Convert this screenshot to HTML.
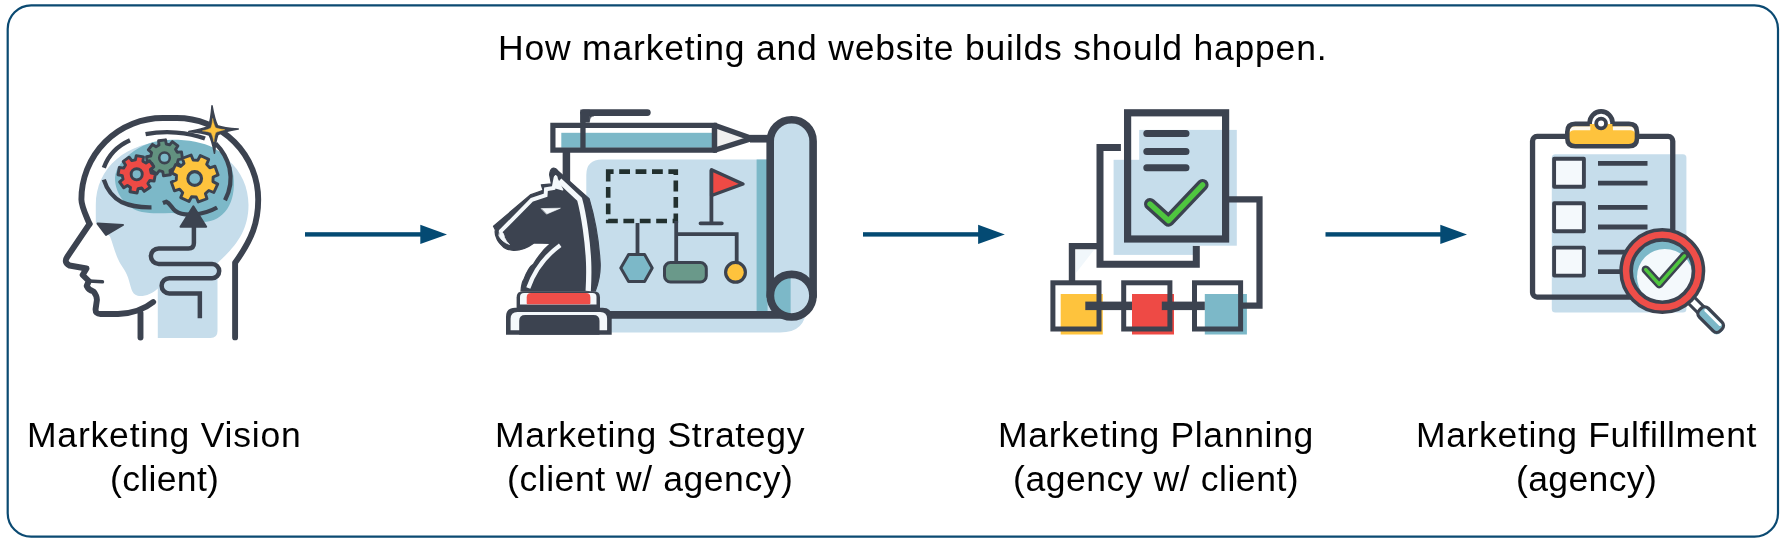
<!DOCTYPE html>
<html><head><meta charset="utf-8">
<style>
html,body{margin:0;padding:0;background:#fff;}
body{width:1785px;height:544px;position:relative;overflow:hidden;font-family:"Liberation Sans",sans-serif;color:#000;}
.t{position:absolute;will-change:transform;font-size:35.5px;line-height:40px;white-space:nowrap;}
svg{position:absolute;left:0;top:0;}
</style></head><body>
<div class="t" id="t0" style="left:497.90px;top:27.8px;letter-spacing:0.809px">How marketing and website builds should happen.</div>
<div class="t" id="a1" style="left:27.00px;top:415px;letter-spacing:0.802px">Marketing Vision</div>
<div class="t" id="b1" style="left:109.98px;top:459px;letter-spacing:0.344px">(client)</div>
<div class="t" id="a2" style="left:495.10px;top:415px;letter-spacing:0.676px">Marketing Strategy</div>
<div class="t" id="b2" style="left:506.78px;top:459px;letter-spacing:0.569px">(client w/ agency)</div>
<div class="t" id="a3" style="left:998.40px;top:415px;letter-spacing:0.673px">Marketing Planning</div>
<div class="t" id="b3" style="left:1013.38px;top:459px;letter-spacing:0.556px">(agency w/ client)</div>
<div class="t" id="a4" style="left:1416.10px;top:415px;letter-spacing:0.649px">Marketing Fulfillment</div>
<div class="t" id="b4" style="left:1516.08px;top:459px;letter-spacing:0.369px">(agency)</div>
<svg width="1785" height="544" viewBox="0 0 1785 544">
<rect x="7.7" y="5.4" width="1770.3" height="531.3" rx="23.5" ry="23.5" fill="none" stroke="#0b4a72" stroke-width="2.2"/>
<g fill="#044a73">
<rect x="305" y="232.2" width="118" height="4.4"/><polygon points="420.3,224.8 447,234.4 420.3,244"/>
<rect x="863" y="232.2" width="118" height="4.4"/><polygon points="978.1,224.8 1004.8,234.4 978.1,244"/>
<rect x="1325.5" y="232.2" width="118" height="4.4"/><polygon points="1440.3,224.8 1467,234.4 1440.3,244"/>
</g>
<g fill="none" stroke="#3c4350" stroke-linecap="round" stroke-linejoin="round"><path d="M95.8,205 C95.8,168 126,141 172,141 C220,141 248.5,170 248.5,205 C248.5,232 234,248 217.5,263 L217.5,331 Q217.5,338 210.5,338 L157.8,338 L157.8,288.5 C152,294 144,297 137.7,295.8 C131,294 131,286 128,277.5 C125,269 121,266 118,259 C114,250 113,244 110,236.5 L95.8,222.6Z" fill="#c6ddeb" stroke="none"/><path d="M115,178 C115,168 124,158 134,151 C146,143 158,139.8 172,139.8 C205,139.8 230.5,150 233.5,176 C236.5,203 224,221.5 203,222 C192,222 186,213.5 172,213 C162,213 152,214 142,212 C126,208.5 115,194 115,178Z" fill="#7cb8c8" stroke="none"/><path d="M89.5,224 C84.5,212 81.4,206 81.4,199.5 A81.4,81.4 0 0 1 162.8,118 L176.7,118 A81.5,81.5 0 0 1 258.2,199.5 C258.2,222 252.5,238.5 235.1,262.8 L235.1,337.4" stroke-width="5.9"/><path d="M89.5,224 L67.2,257 Q63.5,262.5 69.5,265.5 L86.5,268.5 L82.6,275 L88.8,281 L86.7,286 Q88.5,290 93.6,291.5 Q97,296 96.9,300 L95.6,309 Q95.2,314 100.5,314 L118,314 C132,313.5 144,309.5 153.2,302" stroke-width="5.9"/><path d="M88.8,281 L102.4,281.8" stroke-width="3.6"/><path d="M140.5,313 L140.5,337.5" stroke-width="5.9"/><path d="M97.5,223.6 L123,225 L106,235Z" fill="#3c4350" stroke-width="2"/><path d="M199.85,318.2 L199.85,293.4 L169.2,293.4 A7.6,7.6 0 0 1 169.2,278.2 L212.1,278.2 A7.1,7.1 0 0 0 212.1,264 L158.7,264 A7.8,7.8 0 0 1 158.7,248.4 L188.4,248.4 Q193.9,248.4 193.9,242.9 L193.9,226" stroke-width="4.5" stroke-linejoin="miter" stroke-linecap="butt"/><path d="M145.6,134.2 C165,130.5 188,132 205,138.6" stroke-width="4.3" stroke-linecap="butt"/><path d="M130,140.2 C117,146 108,156 103.8,167.8" stroke-width="4.3" stroke-linecap="butt"/><path d="M103.8,179.6 C107,190 113,197.5 122,202.3 C131,206.5 141,207.5 151.5,207.3" stroke-width="4.3" stroke-linecap="butt"/><path d="M162.9,203 L166.4,201.7 C170,203 171.5,208 175.5,211 C183,216.5 202,216 217.1,207.5" stroke-width="4.3" stroke-linecap="butt"/><path d="M215.6,143.5 C222,150 227,158 229.5,168 C232,180 230,191 225,200.2" stroke-width="4.3" stroke-linecap="butt"/><path d="M177.27,152.30 L181.49,151.87 L182.47,158.82 L178.29,159.57 L177.41,162.94 L180.71,165.62 L176.49,171.23 L173.00,168.80 L170.00,170.57 L170.43,174.79 L163.48,175.77 L162.73,171.59 L159.36,170.71 L156.68,174.01 L151.07,169.79 L153.50,166.30 L151.73,163.30 L147.51,163.73 L146.53,156.78 L150.71,156.03 L151.59,152.66 L148.29,149.98 L152.51,144.37 L156.00,146.80 L159.00,145.03 L158.57,140.81 L165.52,139.83 L166.27,144.01 L169.64,144.89 L172.32,141.59 L177.93,145.81 L175.50,149.30Z" fill="#62917f" stroke="#3c4350" stroke-width="2.90" stroke-linejoin="round"/><circle cx="164.50" cy="157.80" r="5.30" fill="#7cb8c8" stroke="#3c4350" stroke-width="2.60"/><path d="M151.14,172.96 L155.40,173.89 L154.13,181.08 L149.81,180.50 L147.86,183.56 L150.21,187.23 L144.23,191.42 L141.59,187.95 L138.04,188.74 L137.11,193.00 L129.92,191.73 L130.50,187.41 L127.44,185.46 L123.77,187.81 L119.58,181.83 L123.05,179.19 L122.26,175.64 L118.00,174.71 L119.27,167.52 L123.59,168.10 L125.54,165.04 L123.19,161.37 L129.17,157.18 L131.81,160.65 L135.36,159.86 L136.29,155.60 L143.48,156.87 L142.90,161.19 L145.96,163.14 L149.63,160.79 L153.82,166.77 L150.35,169.41Z" fill="#ee4a45" stroke="#3c4350" stroke-width="2.90" stroke-linejoin="round"/><circle cx="136.70" cy="174.30" r="5.55" fill="#7cb8c8" stroke="#3c4350" stroke-width="2.90"/><path d="M209.80,167.81 L214.96,166.21 L218.12,174.89 L213.14,176.98 L212.94,181.62 L217.72,184.13 L213.81,192.51 L208.81,190.47 L205.39,193.60 L206.99,198.76 L198.31,201.92 L196.22,196.94 L191.58,196.74 L189.07,201.52 L180.69,197.61 L182.73,192.61 L179.60,189.19 L174.44,190.79 L171.28,182.11 L176.26,180.02 L176.46,175.38 L171.68,172.87 L175.59,164.49 L180.59,166.53 L184.01,163.40 L182.41,158.24 L191.09,155.08 L193.18,160.06 L197.82,160.26 L200.33,155.48 L208.71,159.39 L206.67,164.39Z" fill="#fec33d" stroke="#3c4350" stroke-width="2.90" stroke-linejoin="round"/><circle cx="194.70" cy="178.50" r="6.85" fill="#7cb8c8" stroke="#3c4350" stroke-width="3.10"/><path d="M193.35,206.4 L206.2,226.7 L180.5,226.7Z" fill="#3c4350" stroke-width="2"/><g transform="rotate(-3 213.3 130.3)"><path d="M213.3,105.8 Q215.1,120.0 217.7,125.9 Q223.8,128.5 238.3,130.3 Q223.8,132.1 217.7,134.7 Q215.1,140.1 213.3,153.3 Q211.5,140.1 208.9,134.7 Q203.0,132.1 188.8,130.3 Q203.0,128.5 208.9,125.9 Q211.5,120.0 213.3,105.8Z" fill="#3c4350" stroke="#3c4350" stroke-width="1.6"/><path d="M213.3,118.8 Q214.3,125.3 215.7,127.9 Q218.3,129.3 224.8,130.3 Q218.3,131.3 215.7,132.7 Q214.3,135.3 213.3,141.8 Q212.3,135.3 210.9,132.7 Q208.5,131.3 202.3,130.3 Q208.5,129.3 210.9,127.9 Q212.3,125.3 213.3,118.8Z" fill="#fec33d" stroke="#fec33d" stroke-width="0.4"/></g></g>
<g fill="none" stroke="#3c4350" stroke-linecap="round" stroke-linejoin="round"><path d="M586.3,175 Q586.3,159.5 602,159.5 L767,159.5 L767,300 L806,300 L806,308 Q806,332.5 780,332.5 L586.3,332.5Z" fill="#c6ddeb" stroke="none"/><rect x="756.6" y="159.5" width="11" height="152" fill="#7cb8c8" stroke="none"/><path d="M566.4,152 L566.4,200" stroke-width="7.5"/><path d="M750,138.7 L768,138.7" stroke-width="7.7" stroke-linecap="butt"/><path d="M610,314.9 L790,314.9" stroke-width="7.6"/><path d="M770.2,296 L770.2,141.2 A21.45,21.45 0 0 1 813.1,141.2 L813.1,296" fill="#c6ddeb" stroke-width="7.6"/><circle cx="791.65" cy="295.7" r="21.3" fill="#c6ddeb" stroke="none"/><path d="M790.6,274.4 A21.3,21.3 0 0 0 790.6,317Z" fill="#7cb8c8" stroke="none"/><circle cx="791.65" cy="295.7" r="21.3" stroke-width="7.7"/><rect x="552.9" y="125.3" width="161.6" height="24.9" fill="#fff" stroke="none"/><rect x="561.3" y="132.8" width="152" height="15" fill="#7cb8c8" stroke="none"/><path d="M714.5,125.3 L750,138.4 L714.5,150.2Z" fill="#f0f0f0" stroke="none"/><path d="M714.5,125.3 L552.9,125.3 L552.9,150.2 L714.5,150.2Z" stroke-width="5.2" stroke-linejoin="miter"/><path d="M714.5,125.3 L752,138.4 L714.5,150.2Z" stroke-width="5.3" stroke-linejoin="round"/><path d="M582.95,148 L582.95,112" stroke-width="5.3" stroke-linecap="butt"/><path d="M583.7,112.6 L647.3,112.6" stroke-width="6.8"/><path d="M580.3,109.6 L589.7,109.6 L589.7,122.6 L580.3,122.6Z" fill="#3c4350" stroke="none"/><path d="M589.5,115.8 L594,115.8 Q589.8,116.3 589.5,121Z" fill="#3c4350" stroke-width="0.6"/><rect x="608.2" y="171.6" width="67.6" height="49.4" stroke="#22302f" stroke-width="4.6" stroke-dasharray="10.8 5.6" stroke-dashoffset="5.4" stroke-linecap="butt" stroke-linejoin="miter"/><path d="M637.5,223 L637.5,254 M676.2,221 L676.2,262 M676.2,234.2 L736.7,234.2 L736.7,262" stroke-width="3.8" stroke-linecap="butt" stroke-linejoin="miter"/><path d="M620.8,268 L628.6,254.6 L644.6,254.6 L652.2,268 L644.6,281.4 L628.6,281.4Z" fill="#7cb8c8" stroke-width="3"/><rect x="664.5" y="262.6" width="41.8" height="19.4" rx="6" ry="6" fill="#6a998a" stroke-width="3"/><circle cx="735.5" cy="272.3" r="9.9" fill="#fec33d" stroke-width="3.2"/><path d="M711.4,170.5 L711.4,223 M700.5,223.3 L721.8,223.3" stroke-width="3.8"/><path d="M711.6,169.8 L743,184 L711.6,195.5Z" fill="#ee4a45" stroke-width="3.4"/><path d="M506,334.7 L506,316.8 Q506,307.75 515,307.75 L602.7,307.75 Q611.7,307.75 611.7,316.8 L611.7,334.7Z" fill="#3c4350" stroke="none"/><path d="M510.6,330.2 L510.6,319 Q510.6,312.1 517.5,312.1 L600.2,312.1 Q607.1,312.1 607.1,319 L607.1,330.2Z" fill="#f4f8fb" stroke="none"/><path d="M519.2,334.7 L519.2,321 Q519.2,315.1 525.2,315.1 L593.5,315.1 Q599.5,315.1 599.5,321 L599.5,334.7Z" fill="#3c4350" stroke="none"/><path d="M516.6,309 L516.6,297.5 Q516.6,291.3 522.8,291.3 L593.8,291.3 Q600,291.3 600,297.5 L600,309Z" fill="#3c4350" stroke="none"/><path d="M520,304.4 L520,297 Q520,292.9 524,292.9 L592.5,292.9 Q596.5,292.9 596.5,297 L596.5,304.4Z" fill="#f4f8fb" stroke="none"/><path d="M526.7,303.2 L526.7,297.5 Q526.7,293.1 531,293.1 L586,293.1 Q590.4,293.1 590.4,297.5 L590.4,303.2 Q590.4,304.2 589.4,304.2 L527.7,304.2 Q526.7,304.2 526.7,303.2Z" fill="#ef4e49" stroke="none"/><path d="M553.3,168 Q556,168 557.9,171 L589.1,198.6 C594,215 599,240 600.2,263.9 C600.5,275 598,284 595.3,291 L521,291 C521.5,285 522.5,281 523.9,279.4 C527,271 530,266 533.6,263.9 C539,255 545,248 550.5,243.5 L534,243 C528,247.5 522,250.5 513.7,250.4 C508,250 504,248 502.7,246.4 C499,243 497,240 496.3,237.2 C495,234 494.8,232 495.4,229.9 L493.5,226.2 L530.3,194.9 L543.1,190.3 L541.3,184.8 L551.4,183.9 L549.6,174.7 Q550,169 553.3,168Z" fill="#3c4350" stroke-width="1.2"/><path d="M500.8,231.2 L531.8,199.8 L545.6,195.2 L546,189.2 L553.6,188 L555.6,177.5" stroke="#f4f8fb" stroke-width="3.9" stroke-linejoin="miter"/><path d="M555.6,175.8 L562.6,189.8 L554.5,187.5Z" fill="#f4f8fb" stroke="#f4f8fb" stroke-width="1.5"/><path d="M559.5,180.5 L579.6,199.2 C584,215 587.8,243 588.6,262 C589,272 588.8,281 588.2,291" stroke="#f4f8fb" stroke-width="5.3" stroke-linecap="butt"/><path d="M560.2,245.2 C548,254 535,269 528.3,288" stroke="#f4f8fb" stroke-width="4.3" stroke-linecap="butt"/><path d="M541.5,208.6 L560.4,208.2 L546.8,214Z" fill="#f4f8fb" stroke="#f4f8fb" stroke-width="0.6"/><path d="M500,230.5 Q504.5,233 504.5,237.5 Q506,241.5 509.5,244.5 Q502,242 499,236Z" fill="#f4f8fb" stroke="#f4f8fb" stroke-width="0.8"/></g>
<g fill="none" stroke="#3c4350" stroke-linecap="butt" stroke-linejoin="miter"><rect x="1113.6" y="159.8" width="80" height="95.1" fill="#c6ddeb" stroke="none"/><path d="M1120.9,147.4 L1100,147.4 L1100,264.3 L1196.3,264.3 L1196.3,245.7" stroke-width="7"/><path d="M1100,246.1 L1072,246.1 L1072,281" stroke-width="6.4"/><path d="M1076,250 L1094,250 L1076,273Z" fill="#f1f7fb" stroke="none"/><rect x="1139.2" y="129.9" width="97.6" height="115.8" fill="#c6ddeb" stroke="none"/><rect x="1127.6" y="112.8" width="98" height="126.2" stroke-width="7.2"/><path d="M1146.8,133.5 L1186,133.5 M1146.8,151.4 L1186,151.4 M1146.8,167.7 L1186,167.7" stroke-width="7" stroke-linecap="round"/><path d="M1150,204 L1168.6,220.7 L1202.6,184.9" stroke-width="12" stroke-linecap="round" stroke-linejoin="round"/><path d="M1150,204 L1168.6,220.7 L1202.6,184.9" stroke="#4fc63f" stroke-width="5.4" stroke-linecap="round" stroke-linejoin="round"/><rect x="1060.7" y="294" width="42.1" height="40.5" fill="#fec33d" stroke="none"/><rect x="1132" y="294" width="42" height="40.5" fill="#ee4a45" stroke="none"/><rect x="1204.8" y="294" width="42.1" height="40.5" fill="#7cb8c8" stroke="none"/><path d="M1227,199.4 L1259.5,199.4 L1259.5,305.6 L1241,305.6" stroke-width="6.2"/><rect x="1052.9" y="282.8" width="46.1" height="46.2" stroke-width="5"/><rect x="1123.7" y="282.8" width="46.2" height="46.2" stroke-width="5"/><rect x="1194.5" y="282.8" width="46.1" height="46.2" stroke-width="5"/><rect x="1085.3" y="301.6" width="46.7" height="8.5" fill="#3c4350" stroke="none"/><rect x="1161.8" y="301.6" width="43" height="8.5" fill="#3c4350" stroke="none"/></g>
<g fill="none" stroke="#3c4350" stroke-linecap="butt" stroke-linejoin="round"><rect x="1551.8" y="154.3" width="134.6" height="158.2" rx="3.5" fill="#c6ddeb" stroke="none"/><rect x="1532.55" y="136.45" width="140.2" height="160.6" rx="4.5" stroke-width="5.3"/><circle cx="1601.1" cy="122.9" r="11.5" fill="#fff" stroke-width="4.6"/><rect x="1567.3" y="123.9" width="69.7" height="22.4" rx="8" fill="#fec33d" stroke="none"/><path d="M1569.7,131.5 Q1569.7,126.2 1575,126.2 L1590.3,126.2 L1590.3,130.3 L1574,130.3 Q1570.5,130.3 1569.7,133Z M1612.9,130.3 L1612.9,126.2 L1629.5,126.2 Q1634.6,126.2 1634.6,131.5 L1634.6,133 Q1634,130.3 1630.5,130.3Z" fill="#fffaf0" stroke="none"/><path d="M1589.8,123.9 L1575.3,123.9 Q1567.3,123.9 1567.3,131.9 L1567.3,138.3 Q1567.3,146.3 1575.3,146.3 L1629,146.3 Q1637,146.3 1637,138.3 L1637,131.9 Q1637,123.9 1629,123.9 L1612.4,123.9" stroke-width="4.6"/><circle cx="1601.1" cy="123.5" r="4.9" fill="#fff" stroke-width="3.8"/><rect x="1554.1" y="158.7" width="29.8" height="28" fill="#f4f9fc" stroke-width="3.9"/><rect x="1554.1" y="203.2" width="29.8" height="28" fill="#f4f9fc" stroke-width="3.9"/><rect x="1554.1" y="247.6" width="29.8" height="28" fill="#f4f9fc" stroke-width="3.9"/><path d="M1598,163.4 L1647.5,163.4" stroke-width="4.8"/><path d="M1598,183.2 L1647.5,183.2" stroke-width="4.8"/><path d="M1598,207.4 L1647.5,207.4" stroke-width="4.8"/><path d="M1598,227.0 L1647.5,227.0" stroke-width="4.8"/><path d="M1598,252.1 L1647.5,252.1" stroke-width="4.8"/><path d="M1598,271.7 L1647.5,271.7" stroke-width="4.8"/><g transform="rotate(45 1662.3 271.2)"><rect x="1700" y="266.9" width="18" height="8.6" fill="#fff" stroke-width="3"/><rect x="1716.5" y="266.4" width="30.5" height="12.6" rx="5" fill="#7cb8c8" stroke="none"/><rect x="1716" y="264.9" width="29.5" height="12.6" rx="5" fill="#7cb8c8" stroke-width="3.2"/><path d="M1720.5,268.2 L1741,268.2" stroke="#fff" stroke-width="2.6" stroke-linecap="round"/></g><clipPath id="mg"><circle cx="1662.3" cy="271.1" r="30"/></clipPath><circle cx="1662.3" cy="271.2" r="30" fill="#7cb8c8" stroke="none"/><circle cx="1664.9" cy="276.8" r="27.9" fill="#f4f9fc" stroke="none" clip-path="url(#mg)"/><circle cx="1662.3" cy="271.1" r="36.15" stroke="#3c4350" stroke-width="13.7"/><circle cx="1662.3" cy="271.1" r="36.25" stroke="#ee4e49" stroke-width="6.5"/><path d="M1645.8,269.6 L1659.2,284.2 L1684.4,255.8" stroke-width="8.4" stroke-linecap="round"/><path d="M1645.8,269.6 L1659.2,284.2 L1684.4,255.8" stroke="#4fc63f" stroke-width="3.5" stroke-linecap="round"/></g>
</svg>
</body></html>
